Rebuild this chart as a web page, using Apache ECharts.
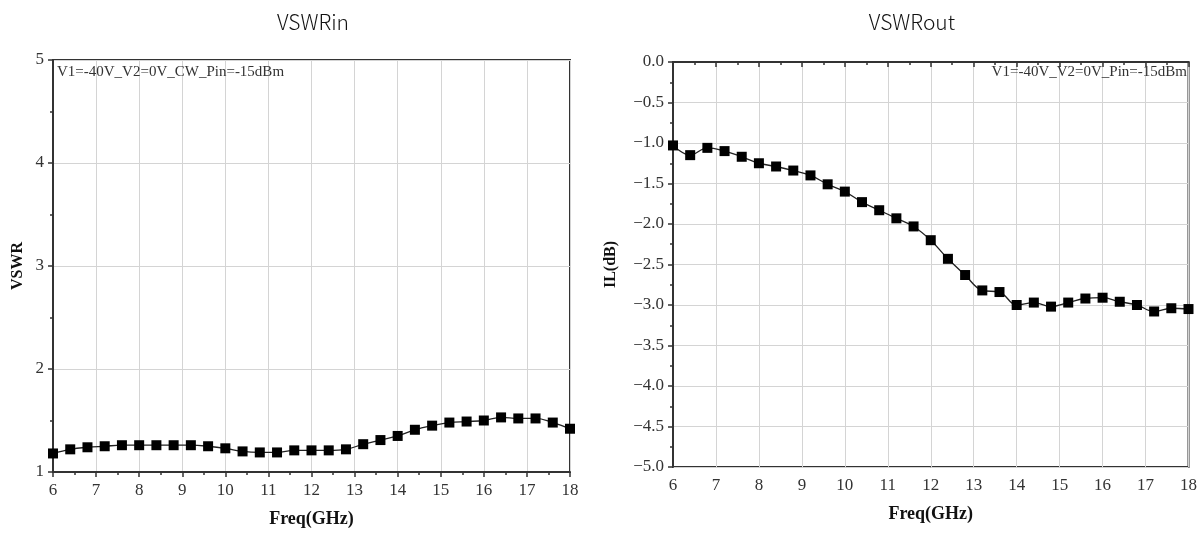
<!DOCTYPE html>
<html>
<head>
<meta charset="utf-8">
<script src="https://cdn.jsdelivr.net/npm/echarts@6/dist/echarts.min.js"></script>
<style>html,body{margin:0;padding:0;background:#fff;}#c{width:1200px;height:533px;}</style>
</head>
<body>
<div id="c"></div>
<script>
// ---- data ----
var freq = [6.0, 6.4, 6.8, 7.2, 7.6, 8.0, 8.4, 8.8, 9.2, 9.6, 10.0, 10.4, 10.8, 11.2, 11.6, 12.0,
            12.4, 12.8, 13.2, 13.6, 14.0, 14.4, 14.8, 15.2, 15.6, 16.0, 16.4, 16.8, 17.2, 17.6, 18.0];
var vswrIn = [1.18, 1.22, 1.24, 1.25, 1.26, 1.26, 1.26, 1.26, 1.26, 1.25, 1.23, 1.20, 1.19, 1.19, 1.21, 1.21,
              1.21, 1.22, 1.27, 1.31, 1.35, 1.41, 1.45, 1.48, 1.49, 1.50, 1.53, 1.52, 1.52, 1.48, 1.42];
var ilOut = [-1.03, -1.15, -1.06, -1.10, -1.17, -1.25, -1.29, -1.34, -1.40, -1.51, -1.60, -1.73, -1.83, -1.93, -2.03, -2.20,
             -2.43, -2.63, -2.82, -2.84, -3.00, -2.97, -3.02, -2.97, -2.92, -2.91, -2.96, -3.00, -3.08, -3.04, -3.05];
var titles = ['VSWRin', 'VSWRout'];
var notes = ['V1=-40V_V2=0V_CW_Pin=-15dBm', 'V1=-40V_V2=0V_Pin=-15dBm'];
var xName = 'Freq(GHz)';
var yNames = ['VSWR', 'IL(dB)'];

function pairs(xs, ys) { return xs.map(function (x, i) { return [x, ys[i]]; }); }

var serif = '"Liberation Serif", "DejaVu Serif", serif';
var axisColor = '#333';
var gridColor = '#d4d4d4';

function xAxisDef(gi) {
  return {
    type: 'value', gridIndex: gi, min: 6, max: 18, interval: 1,
    name: xName, nameLocation: 'middle', nameGap: 38,
    nameTextStyle: { fontFamily: serif, fontWeight: 'bold', fontSize: 18, color: '#111' },
    axisLine: { show: true, lineStyle: { color: axisColor, width: 2 } },
    axisTick: { show: true, inside: false, length: 5, lineStyle: { color: axisColor, width: 1.5 } },
    minorTick: { show: true, splitNumber: 2, length: 3, lineStyle: { color: axisColor, width: 1.5 } },
    axisLabel: { fontFamily: serif, fontSize: 17, color: '#333', margin: 10 },
    splitLine: { show: true, lineStyle: { color: gridColor, width: 1 } }
  };
}

var option = {
  animation: false,
  backgroundColor: '#fff',
  grid: [
    { left: 53, top: 60, width: 517, height: 413, show: true, borderColor: axisColor, borderWidth: 2, containLabel: false },
    { left: 673, top: 62, width: 516, height: 405, show: true, borderColor: axisColor, borderWidth: 2, containLabel: false }
  ],
  xAxis: [xAxisDef(0), xAxisDef(1)],
  yAxis: [
    {
      type: 'value', gridIndex: 0, min: 1, max: 5, interval: 1,
      name: yNames[0], nameLocation: 'middle', nameGap: 27, nameRotate: 90,
      nameTextStyle: { fontFamily: serif, fontWeight: 'bold', fontSize: 16, color: '#111' },
      axisLine: { show: true, lineStyle: { color: axisColor, width: 2 } },
      axisTick: { show: true, length: 5, lineStyle: { color: axisColor, width: 1.5 } },
      minorTick: { show: true, splitNumber: 2, length: 3, lineStyle: { color: axisColor, width: 1.5 } },
      axisLabel: { fontFamily: serif, fontSize: 17, color: '#333', margin: 9 },
      splitLine: { show: true, lineStyle: { color: gridColor, width: 1 } }
    },
    {
      type: 'value', gridIndex: 1, min: -5, max: 0, interval: 0.5,
      name: yNames[1], nameLocation: 'middle', nameGap: 54, nameRotate: 90,
      nameTextStyle: { fontFamily: serif, fontWeight: 'bold', fontSize: 16, color: '#111' },
      axisLine: { show: true, lineStyle: { color: axisColor, width: 2 } },
      axisTick: { show: true, length: 5, lineStyle: { color: axisColor, width: 1.5 } },
      minorTick: { show: true, splitNumber: 2, length: 3, lineStyle: { color: axisColor, width: 1.5 } },
      axisLabel: { fontFamily: serif, fontSize: 17, color: '#333', margin: 9,
        formatter: function (v) { return v.toFixed(1).replace('-', '\u2212'); } },
      splitLine: { show: true, lineStyle: { color: gridColor, width: 1 } }
    }
  ],
  graphic: [
    { type: 'text', x: 313, y: 22, style: { text: titles[0], align: 'center', verticalAlign: 'middle',
      font: '300 21px "Noto Sans CJK SC", "Noto Sans", sans-serif', fill: '#111' } },
    { type: 'text', x: 912, y: 22, style: { text: titles[1], align: 'center', verticalAlign: 'middle',
      font: '300 21px "Noto Sans CJK SC", "Noto Sans", sans-serif', fill: '#111' } },
    { type: 'text', x: 57, y: 72, z: 100, style: { text: notes[0], align: 'left', verticalAlign: 'middle',
      font: '15px ' + serif, fill: '#333' } },
    { type: 'text', x: 1187, y: 72, z: 100, style: { text: notes[1], align: 'right', verticalAlign: 'middle',
      font: '15px ' + serif, fill: '#333' } }
  ],
  series: [
    {
      type: 'line', xAxisIndex: 0, yAxisIndex: 0, data: pairs(freq, vswrIn),
      smooth: 0.4, symbol: 'rect', symbolSize: 10, showAllSymbol: true,
      itemStyle: { color: '#000' }, lineStyle: { color: '#222', width: 1.3 }
    },
    {
      type: 'line', xAxisIndex: 1, yAxisIndex: 1, data: pairs(freq, ilOut),
      smooth: 0.4, symbol: 'rect', symbolSize: 10, showAllSymbol: true,
      itemStyle: { color: '#000' }, lineStyle: { color: '#222', width: 1.3 }
    }
  ]
};

var chart = echarts.init(document.getElementById('c'), null, { renderer: 'canvas' });
chart.setOption(option);
</script>
</body>
</html>
